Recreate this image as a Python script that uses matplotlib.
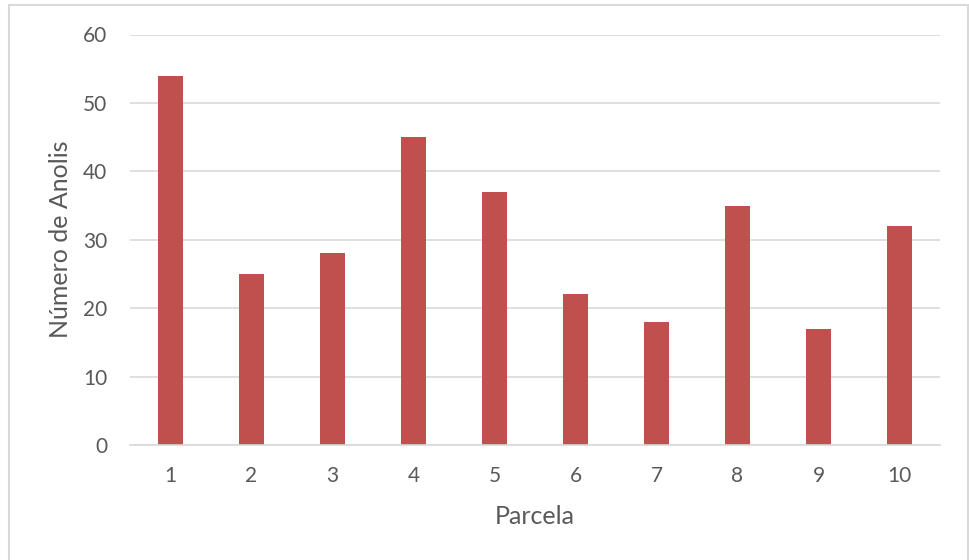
import matplotlib
matplotlib.use("Agg")
import matplotlib.pyplot as plt
from matplotlib.patches import Rectangle

parcelas = ["1", "2", "3", "4", "5", "6", "7", "8", "9", "10"]
anolis = [54, 25, 28, 45, 37, 22, 18, 35, 17, 32]
y_ticks = [0, 10, 20, 30, 40, 50, 60]

W, H = 969, 560
fig = plt.figure(figsize=(W / 100, H / 100), dpi=100)
plt.rcParams["font.family"] = ["Lato", "DejaVu Sans"]
text_color = "#595959"
grid_color = "#d9d9d9"

# plot area in pixel coordinates
left, right, top, bottom = 130, 940, 34.5, 445
ax = fig.add_axes([left / W, 1 - bottom / H, (right - left) / W, (bottom - top) / H])

x = range(len(parcelas))
ax.bar(x, anolis, width=0.32, color="#c0504d", zorder=3)

ax.set_xlim(-0.5, len(parcelas) - 0.5)
ax.set_ylim(0, 60)
ax.set_yticks(y_ticks)
ax.set_xticks(list(x))
ax.set_xticklabels(parcelas)
ax.yaxis.grid(True, color=grid_color, linewidth=1.2, zorder=0)
ax.set_axisbelow(True)

for side in ["top", "right", "left"]:
    ax.spines[side].set_visible(False)
ax.spines["bottom"].set_color(grid_color)
ax.spines["bottom"].set_linewidth(1.2)
ax.spines["bottom"].set_zorder(4)

ax.tick_params(axis="both", length=0, labelsize=15, labelcolor=text_color)
ax.tick_params(axis="x", pad=15)
ax.tick_params(axis="y", pad=16.5)

ax.set_xlabel("Parcela", fontsize=18, color=text_color, labelpad=14)
ax.set_ylabel("Número de Anolis", fontsize=18, color=text_color, labelpad=8)

# light frame around the chart
frame = Rectangle((8.5 / W, -0.05), (967.5 - 8.5) / W, 1.05 - 5 / H,
                  transform=fig.transFigure, fill=False,
                  edgecolor="#d9d9d9", linewidth=1.5)
fig.patches.append(frame)

fig.savefig("out.png", dpi=100)
